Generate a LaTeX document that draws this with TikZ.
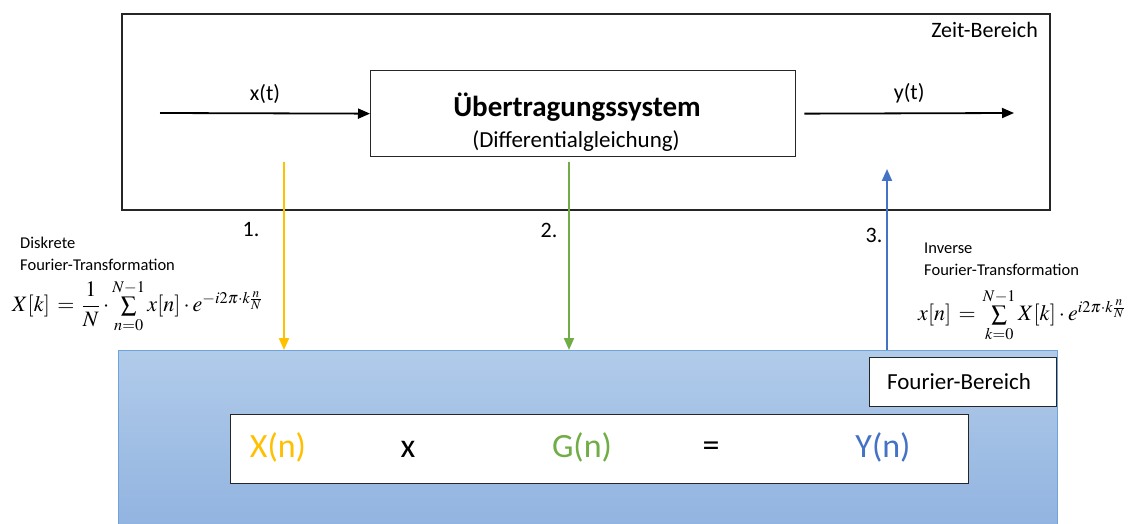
\documentclass[tikz,border=0pt]{standalone}
\usepackage[no-math]{fontspec}
\usepackage{mathptmx}
\setmainfont{Carlito}
\usetikzlibrary{arrows.meta}
\definecolor{myyellow}{HTML}{FFC000}
\definecolor{mygreen}{HTML}{70AD47}
\definecolor{myblue}{HTML}{4472C4}
\definecolor{bgtop}{HTML}{B1CBEA}
\definecolor{bgbot}{HTML}{92B4E0}
\definecolor{bgedge}{HTML}{6FA3DA}
\tikzset{
  box/.style={draw=black!85, line width=1.3pt, fill=white},
  lbl/.style={inner sep=0pt, font=\fontsize{22}{26}\selectfont},
  small/.style={inner sep=0pt, align=left, font=\fontsize{16.5}{22}\selectfont},
  sig/.style={line width=2pt, -{Triangle[length=12pt,width=10pt]}},
  big/.style={inner sep=0pt, font=\fontsize{34}{40}\selectfont},
  formula/.style={inner sep=0pt, font=\fontsize{22}{26}\selectfont},
}
\begin{document}
\begin{tikzpicture}[x=1pt,y=-1pt]
\useasboundingbox (0,0) rectangle (1133,524);
% time domain box
\draw[draw=black!85, line width=1.3pt] (122,14) rectangle (1050,210);
\node[lbl, anchor=north east] (zeit) at (1038,22) {Zeit-Bereich};
% system
\node[box, minimum width=425pt, minimum height=86pt, anchor=north west, inner sep=0pt] (sys) at (370,70) {};
\node[inner sep=0pt, font=\fontsize{29}{34}\selectfont\bfseries] (t1) at (577,107) {Übertragungssystem};
\node[inner sep=0pt, font=\fontsize{23}{28}\selectfont] (t2) at (576,141) {(Differentialgleichung)};
\coordinate (xin) at (160,113);
\coordinate (yout) at (1014,113);
\draw[sig, line width=1.8pt] (xin) -- (sys.west) node[midway, above=9pt, lbl] (xt) {x(t)};
\draw[sig, line width=1.8pt] ([xshift=8pt]sys.east) -- (yout) node[midway, above=9pt, lbl] (yt) {y(t)};
% frequency domain
\shade[top color=bgtop, bottom color=bgbot] (118,350) rectangle (1057,524);
\draw[bgedge, line width=1pt] (118,524) -- (118,350) -- (1057,350) -- (1057,524);
\node[box, minimum width=187pt, minimum height=49pt, anchor=north west, inner sep=0pt] (fb) at (869,357) {};
\node[lbl, font=\fontsize{23}{28}\selectfont] (fbt) at (959,382) {Fourier-Bereich};
\node[box, minimum width=738pt, minimum height=69pt, anchor=north west, inner sep=0pt] (eq) at (230,414) {};
\node[big, text=myyellow] (X) at (278,447) {X(n)};
\node[big] (mul) at (408,449) {x};
\node[big, text=mygreen] (G) at (582,447) {G(n)};
\node[big] (eqs) at (711,449) {=};
\node[big, text=myblue] (Y) at (883,447) {Y(n)};
% vertical arrows
\coordinate (a1s) at (284,162); \coordinate (a1e) at (284,350);
\coordinate (a2s) at (569,162); \coordinate (a2e) at (569,350);
\coordinate (a3s) at (887,350); \coordinate (a3e) at (887,169);
\draw[sig, myyellow] (a1s) -- (a1e);
\draw[sig, mygreen] (a2s) -- (a2e);
\draw[sig, myblue] (a3s) -- (a3e);
\node[lbl] (n1) at (251,230) {1.};
\node[lbl] (n2) at (549,230) {2.};
\node[lbl] (n3) at (874,235) {3.};
% DFT
\node[small, anchor=west] (dft1) at (20,243) {Diskrete};
\node[small, anchor=west] (dft2) at (20,265) {Fourier-Transformation};
\node[formula, anchor=west] (dftf) at (12,306) {$X[k]\,=\,{\displaystyle\frac{1}{N}}\cdot\sum\limits_{n=0}^{N-1}x[n]\cdot e^{-i2\pi\cdot k\frac{n}{N}}$};
% IDFT
\node[small, anchor=west] (idft1) at (924,248) {Inverse};
\node[small, anchor=west] (idft2) at (924,270) {Fourier-Transformation};
\node[formula, anchor=west] (idftf) at (918,315) {$x[n]\,=\,\sum\limits_{k=0}^{N-1}X[k]\cdot e^{i2\pi\cdot k\frac{n}{N}}$};
\end{tikzpicture}
\end{document}
